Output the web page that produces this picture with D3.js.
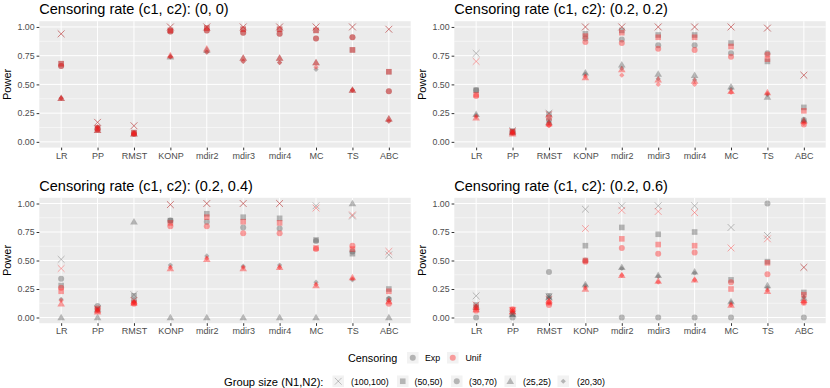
<!DOCTYPE html>
<html><head><meta charset="utf-8">
<script src="https://cdn.jsdelivr.net/npm/d3@7"></script>
<style>body{margin:0;background:#fff;} text{font-family:"Liberation Sans",Arial,sans-serif;}</style>
</head><body>
<svg id="chart" width="830" height="388"></svg>
<script>
const methods = ["LR","PP","RMST","KONP","mdir2","mdir3","mdir4","MC","TS","ABC"];
const groupSizes = ["(100,100)","(50,50)","(30,70)","(25,25)","(20,30)"];
const censoring = ["Exp","Unif"];
const panelTitles = ["Censoring rate (c1, c2): (0, 0)","Censoring rate (c1, c2): (0.2, 0.2)","Censoring rate (c1, c2): (0.2, 0.4)","Censoring rate (c1, c2): (0.2, 0.6)"];
const yTicks = [0,0.25,0.5,0.75,1];
const yTickLabels = ["0.00","0.25","0.50","0.75","1.00"];

// rows: groupSizes order; columns: methods order
const p1Exp = [
 [.94,.17,.14,1.00,1.00,1.00,1.00,1.00,1.00,.98],
 [.68,.12,.08,.97,.99,.98,.98,.97,.80,.61],
 [.66,.11,.07,.96,.97,.95,.94,.90,.91,.44],
 [.38,.10,.07,.74,.80,.73,.73,.69,.45,.20],
 [.38,.13,.07,.74,.78,.70,.69,.63,.45,.18]];
const p1Unif = [
 [.94,.17,.14,1.00,1.00,1.00,1.00,1.00,1.00,.98],
 [.68,.12,.08,.97,.99,.98,.98,.97,.80,.61],
 [.66,.11,.07,.96,.97,.95,.94,.90,.91,.44],
 [.38,.10,.07,.75,.81,.73,.73,.69,.45,.20],
 [.38,.13,.07,.74,.78,.70,.69,.65,.45,.18]];
const p2Exp = [
 [.77,.10,.25,1.00,1.00,1.00,1.00,1.00,.99,.58],
 [.45,.09,.24,.94,.97,.93,.93,.86,.70,.30],
 [.45,.09,.19,.90,.89,.84,.84,.77,.77,.19],
 [.24,.08,.17,.60,.67,.59,.58,.48,.39,.19],
 [.23,.08,.17,.59,.64,.55,.54,.46,.41,.18]];
const p2Unif = [
 [.70,.09,.24,1.00,1.00,1.00,1.00,1.00,.99,.58],
 [.41,.09,.21,.92,.95,.91,.91,.83,.72,.27],
 [.40,.08,.15,.87,.86,.81,.80,.74,.76,.15],
 [.21,.07,.16,.56,.63,.54,.53,.44,.43,.18],
 [.22,.08,.14,.57,.58,.50,.50,.43,.42,.16]];
const p3Exp = [
 [.51,.08,.20,.99,1.00,1.00,1.00,.98,.89,.55],
 [.28,.07,.19,.85,.91,.88,.87,.68,.56,.25],
 [.34,.10,.15,.85,.84,.79,.78,.67,.58,.16],
 [0,0,.84,0,0,0,0,0,1.00,0],
 [.16,.07,.14,.46,.54,.45,.46,.31,.33,.17]];
const p3Unif = [
 [.43,.07,.15,.99,1.00,1.00,1.00,.96,.90,.58],
 [.23,.06,.13,.83,.88,.84,.83,.61,.60,.23],
 [.26,.08,.12,.80,.80,.74,.74,.60,.63,.12],
 [.12,.05,.13,.43,.51,.43,.44,.28,.35,.14],
 [.15,.06,.13,.44,.52,.44,.44,.29,.34,.15]];
const p4Exp = [
 [.19,.03,.18,.95,.98,.98,.98,.79,.72,.44],
 [.11,.03,.19,.63,.79,.73,.75,.33,.49,.22],
 [0,0,.40,.50,0,0,0,0,1.00,0],
 [.09,.03,.18,.29,.44,.37,.40,.14,.28,.17],
 [.10,.04,.17,.28,.43,.36,.39,.13,.26,.18]];
const p4Unif = [
 [.11,.06,.16,.78,.94,.93,.92,.61,.69,.44],
 [.09,.07,.13,.50,.69,.64,.63,.25,.48,.20],
 [.06,.07,.11,.49,.61,.56,.57,.31,.38,.13],
 [.07,.05,.14,.25,.37,.32,.33,.11,.23,.15],
 [.08,.06,.13,.26,.37,.31,.33,.11,.24,.13]];

const panelData = [[p1Exp,p1Unif],[p2Exp,p2Unif],[p3Exp,p3Unif],[p4Exp,p4Unif]];
const colors = {Exp:"#555555", Unif:"#ff1a1a"};
const alpha = 0.4;

const svg = d3.select("#chart");
const panels = [
 {x0:39.3,x1:410.7,y0:21.2,y1:147.6},
 {x0:454.3,x1:825.7,y0:21.2,y1:147.6},
 {x0:39.3,x1:410.7,y0:197.8,y1:323.2},
 {x0:454.3,x1:825.7,y0:197.8,y1:323.2}];

function shapePath(g, shape, cx, cy, color, op){
  if(shape===0){
    const s=3.4;
    g.append("path").attr("d",`M${cx-s},${cy-s}L${cx+s},${cy+s}M${cx-s},${cy+s}L${cx+s},${cy-s}`)
     .attr("stroke",color).attr("stroke-opacity",op).attr("stroke-width",0.9).attr("fill","none");
  } else if(shape===1){
    g.append("rect").attr("x",cx-2.8).attr("y",cy-2.8).attr("width",5.6).attr("height",5.6)
     .attr("fill",color).attr("fill-opacity",op);
  } else if(shape===2){
    g.append("circle").attr("cx",cx).attr("cy",cy).attr("r",3.0).attr("fill",color).attr("fill-opacity",op);
  } else if(shape===3){
    g.append("path").attr("d",`M${cx},${cy-3.8}L${cx+3.8},${cy+2.7}L${cx-3.8},${cy+2.7}Z`)
     .attr("fill",color).attr("fill-opacity",op);
  } else {
    const d=2.6;
    g.append("path").attr("d",`M${cx},${cy-d}L${cx+d},${cy}L${cx},${cy+d}L${cx-d},${cy}Z`)
     .attr("fill",color).attr("fill-opacity",op);
  }
}

panels.forEach((p,pi)=>{
  const g = svg.append("g");
  const x = d3.scalePoint().domain(methods).range([p.x0,p.x1]).padding(0.6);
  const y = d3.scaleLinear().domain([-0.05,1.05]).range([p.y1,p.y0]);
  g.append("rect").attr("x",p.x0).attr("y",p.y0).attr("width",p.x1-p.x0).attr("height",p.y1-p.y0).attr("fill","#ebebeb");
  [0.125,0.375,0.625,0.875].forEach(v=>{
    g.append("line").attr("x1",p.x0).attr("x2",p.x1).attr("y1",y(v)).attr("y2",y(v)).attr("stroke","#fff").attr("stroke-width",0.5);
  });
  yTicks.forEach(v=>{
    g.append("line").attr("x1",p.x0).attr("x2",p.x1).attr("y1",y(v)).attr("y2",y(v)).attr("stroke","#fff").attr("stroke-width",1);
  });
  methods.forEach(m=>{
    g.append("line").attr("x1",x(m)).attr("x2",x(m)).attr("y1",p.y0).attr("y2",p.y1).attr("stroke","#fff").attr("stroke-width",1);
  });
  const ya = d3.axisLeft(y).tickValues(yTicks).tickFormat((d,i)=>yTickLabels[i]).tickSize(2.7).tickPadding(2);
  const yg = g.append("g").attr("transform",`translate(${p.x0},0)`).call(ya);
  yg.select(".domain").remove();
  yg.selectAll("line").attr("stroke","#333");
  yg.selectAll("text").attr("fill","#4d4d4d").attr("font-size",8.8).attr("font-family","Liberation Sans, Arial, sans-serif");
  const xa = d3.axisBottom(x).tickSize(2.7).tickPadding(2);
  const xg = g.append("g").attr("transform",`translate(0,${p.y1})`).call(xa);
  xg.select(".domain").remove();
  xg.selectAll("line").attr("stroke","#333");
  xg.selectAll("text").attr("fill","#4d4d4d").attr("font-size",9).attr("font-family","Liberation Sans, Arial, sans-serif");
  g.append("text").attr("x",p.x0).attr("y",p.y0-6.8).attr("font-size",14.5).attr("fill","#000").text(panelTitles[pi]);
  g.append("text").attr("transform",`translate(${p.x0-28},${(p.y0+p.y1)/2}) rotate(-90)`)
   .attr("text-anchor","middle").attr("font-size",11).attr("fill","#000").text("Power");
  const pts = g.append("g");
  censoring.forEach((c,ci)=>{
    const arr = panelData[pi][ci];
    groupSizes.forEach((gs,si)=>{
      methods.forEach((m,mi)=>{
        shapePath(pts, si, x(m), y(arr[si][mi]), colors[c], alpha);
      });
    });
  });
});

// legend
const lg = svg.append("g");
lg.append("text").attr("x",348).attr("y",361.5).attr("font-size",10.8).attr("fill","#000").text("Censoring");
const censKeys = [{x:407,lx:425},{x:447,lx:465.5}];
censoring.forEach((c,i)=>{
  const k = censKeys[i];
  lg.append("rect").attr("x",k.x).attr("y",352).attr("width",11.5).attr("height",11.5).attr("fill","#f2f2f2");
  lg.append("circle").attr("cx",k.x+5.75).attr("cy",357.75).attr("r",3).attr("fill",colors[c]).attr("fill-opacity",alpha);
  lg.append("text").attr("x",k.lx).attr("y",360.8).attr("font-size",8.8).attr("fill","#000").text(c);
});
lg.append("text").attr("x",224).attr("y",385.5).attr("font-size",11.2).attr("fill","#000").text("Group size (N1,N2):");
const gsKeys = [{x:332.5,lx:351},{x:397,lx:414.5},{x:451,lx:469},{x:504.5,lx:523},{x:557.5,lx:577}];
groupSizes.forEach((gs,i)=>{
  const k = gsKeys[i];
  lg.append("rect").attr("x",k.x).attr("y",375.5).attr("width",11.5).attr("height",11.5).attr("fill","#f2f2f2");
  shapePath(lg, i, k.x+5.75, 381.25, "#000", 0.25);
  lg.append("text").attr("x",k.lx).attr("y",384.5).attr("font-size",8.8).attr("fill","#000").text(gs);
});
</script>
</body></html>
